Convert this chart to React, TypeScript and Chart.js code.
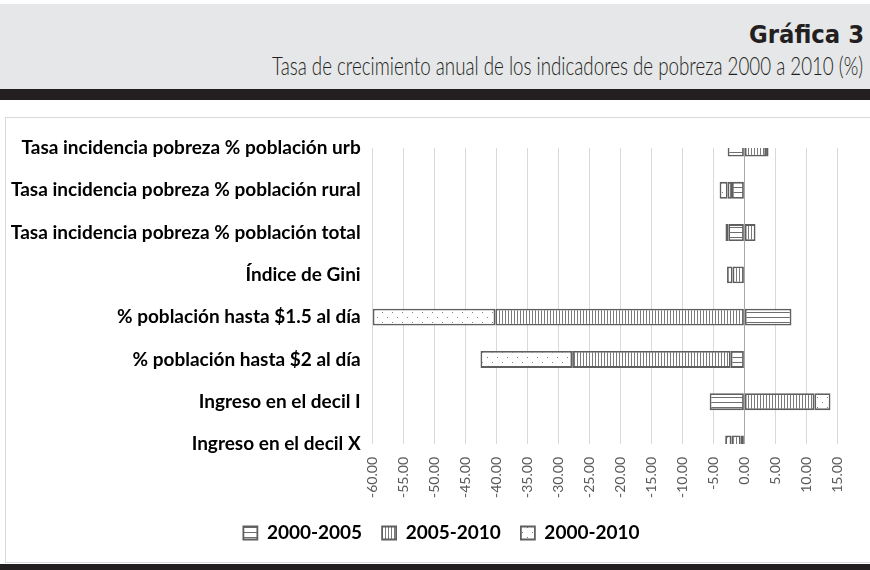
import React, { useEffect, useRef } from "react";
import { Chart, registerables } from "chart.js";

Chart.register(...registerables);

const categories = [
  "Tasa incidencia pobreza % población urb",
  "Tasa incidencia pobreza % población rural",
  "Tasa incidencia pobreza % población total",
  "Índice de Gini",
  "% población hasta $1.5 al día",
  "% población hasta $2 al día",
  "Ingreso en el decil I",
  "Ingreso en el decil X",
];
const seriesNames = ["2000-2005", "2005-2010", "2000-2010"];
const growth2000_2005 = [-2.7, -2.0, -2.6, 0.1, 7.6, -2.2, -5.6, -0.6];
const growth2005_2010 = [3.5, -0.7, 1.8, -1.9, -40.2, -25.6, 11.3, -1.5];
const growth2000_2010 = [0.4, -1.3, -0.45, -0.9, -19.8, -14.8, 2.6, -1.0];
const xMin = -60;
const xMax = 15;
const xStep = 5;

function makePattern(kind: string): CanvasPattern | string {
  const c = document.createElement("canvas");
  let w = 4, h = 5;
  if (kind === "v") { w = 3; h = 4; }
  if (kind === "d") { w = 10; h = 10; }
  c.width = w;
  c.height = h;
  const g = c.getContext("2d");
  if (!g) return "#ffffff";
  g.fillStyle = "#ffffff";
  g.fillRect(0, 0, w, h);
  if (kind === "h") {
    g.fillStyle = "#6e6e6e";
    g.fillRect(0, 2, w, 1);
  } else if (kind === "v") {
    g.fillStyle = "#7a7a7a";
    g.fillRect(1, 0, 1, h);
  } else {
    g.fillStyle = "#808080";
    g.fillRect(2, 2, 1, 1);
    g.fillRect(7, 7, 1, 1);
  }
  const p = g.createPattern(c, "repeat");
  return p || "#ffffff";
}

const legendShift = {
  id: "legendShift",
  afterLayout(chart: any) {
    if (chart.legend) {
      chart.legend.left = 45.7;
    }
  },
};

export default function App() {
  const ref = useRef<HTMLCanvasElement | null>(null);

  useEffect(() => {
    document.body.style.margin = "0";
    const canvas = ref.current;
    if (!canvas) return;
    const borderColor = "#5f5f5f";
    const chart = new Chart(canvas, {
      type: "bar",
      data: {
        labels: categories,
        datasets: [
          { label: seriesNames[0], data: growth2000_2005, backgroundColor: makePattern("h") as any, borderColor, borderWidth: 1.8, borderSkipped: false, clip: 0 as any },
          { label: seriesNames[1], data: growth2005_2010, backgroundColor: makePattern("v") as any, borderColor, borderWidth: 1.8, borderSkipped: false, clip: 0 as any },
          { label: seriesNames[2], data: growth2000_2010, backgroundColor: makePattern("d") as any, borderColor, borderWidth: 1.8, borderSkipped: false, clip: 0 as any },
        ],
      },
      options: {
        indexAxis: "y",
        responsive: false,
        animation: false,
        devicePixelRatio: 1,
        layout: { padding: { top: 148, left: 0, right: 32.7, bottom: 17.5 } },
        datasets: { bar: { categoryPercentage: 0.4, barPercentage: 1 } },
        scales: {
          x: {
            stacked: true,
            min: xMin,
            max: xMax,
            grid: {
              color: (ctx: any) => (ctx.tick && ctx.tick.value === 0 ? "#a8a8a8" : "#d9d9d9"),
              drawTicks: false,
              lineWidth: 1,
            },
            border: { display: false },
            ticks: {
              stepSize: xStep,
              autoSkip: false,
              maxRotation: 90,
              minRotation: 90,
              padding: 13,
              color: "#595959",
              font: { family: "Lato", size: 14 },
              callback: (v: any) => Number(v).toFixed(2),
            },
            afterFit: (s: any) => { s.height = 59.5; },
          },
          y: {
            stacked: true,
            offset: false,
            grid: { display: false, drawTicks: false },
            border: { display: false },
            ticks: {
              autoSkip: false,
              padding: 12,
              color: "#000000",
              font: { family: "Lato", size: 19, weight: "bold" },
            },
            afterFit: (s: any) => { s.width = 372.7; },
          },
        },
        plugins: {
          legend: {
            position: "bottom",
            labels: {
              boxWidth: 14,
              boxHeight: 13,
              padding: 20,
              color: "#000000",
              font: { family: "Lato", size: 19, weight: "bold" },
            },
          },
          tooltip: { enabled: false },
        },
      },
      plugins: [legendShift],
    } as any);
    return () => chart.destroy();
  }, []);

  return (
    <div style={{ position: "relative", width: 870, height: 570, overflow: "hidden", background: "#ffffff" }}>
      <div style={{ position: "absolute", left: 0, top: 4, width: 870, height: 85, background: "#e6e7e8" }} />
      <div style={{ position: "absolute", right: 6, top: 22.5, font: "bold 24px 'DejaVu Sans'", lineHeight: "24px", color: "#231f20", whiteSpace: "nowrap", transformOrigin: "right center", transform: "scaleX(0.95)" }}>
        Gráfica 3
      </div>
      <div style={{ position: "absolute", right: 7, top: 53, font: "300 25px Lato", lineHeight: "25px", color: "#231f20", whiteSpace: "nowrap", transformOrigin: "right center", transform: "scaleX(0.749)" }}>
        Tasa de crecimiento anual de los indicadores de pobreza 2000 a 2010 (%)
      </div>
      <div style={{ position: "absolute", left: 0, top: 89, width: 870, height: 11, background: "#231f20" }} />
      <div style={{ position: "absolute", left: 5, top: 117, width: 880, height: 444, border: "1px solid #d9d9d9" }} />
      <div style={{ position: "absolute", left: 0, top: 564, width: 870, height: 6, background: "#231f20" }} />
      <canvas ref={ref} width={870} height={570} style={{ position: "absolute", left: 0, top: 0, width: 870, height: 570 }} />
    </div>
  );
}
